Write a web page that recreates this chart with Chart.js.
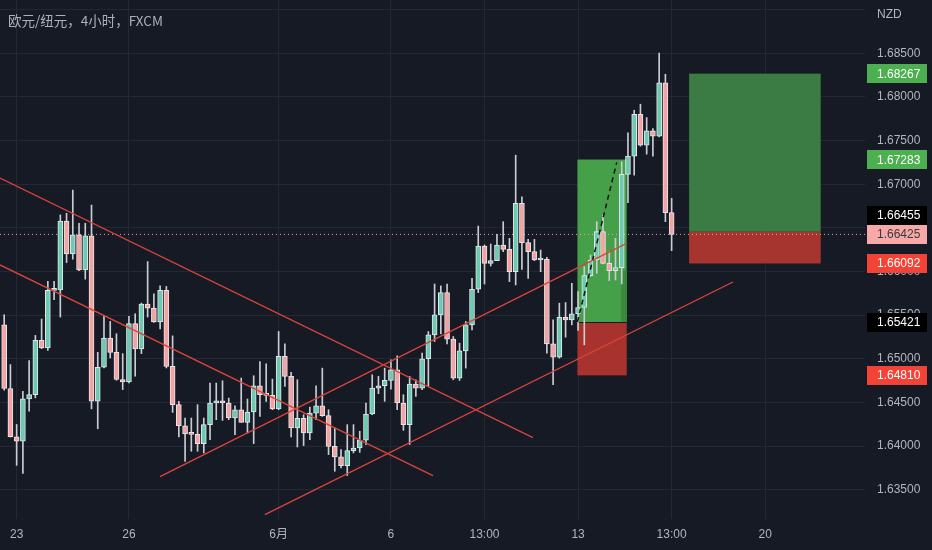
<!DOCTYPE html>
<html>
<head>
<meta charset="utf-8">
<script src="https://cdn.jsdelivr.net/npm/chart.js@4.4.1/dist/chart.umd.min.js"></script>
<style>
html, body { margin: 0; padding: 0; background: #161a25; }
#wrap { position: relative; width: 932px; height: 550px; }
#title { position: absolute; left: 8px; top: 10px; font: 13.5px "Noto Sans CJK SC", sans-serif; color: #aab0bc; }
</style>
</head>
<body>
<div id="wrap">
  <canvas id="chart"></canvas>
  <div id="title">欧元/纽元，4小时，FXCM</div>
</div>
<script>
// 4h candles (index 0 = first bar on the left)
var opens = [1.65390,1.64659,1.64106,1.64057,1.64541,1.64590,1.65211,1.65124,1.65783,1.65790,
  1.66579,1.66202,1.66419,1.66019,1.66408,1.64514,1.64903,1.65238,1.65074,1.64762,
  1.64735,1.65402,1.65112,1.65627,1.65581,1.65421,1.65783,1.64912,1.64474,1.64233,
  1.64138,1.64134,1.64028,1.64245,1.64493,1.64519,1.64493,1.64321,1.64416,1.64272,
  1.64390,1.64691,1.64588,1.64580,1.64424,1.65027,1.64798,1.64207,1.64317,1.64150,
  1.64378,1.64462,1.64348,1.63997,1.63875,1.63776,1.63948,1.63978,1.64066,1.64367,
  1.64664,1.64691,1.64752,1.64874,1.64493,1.64245,1.64710,1.64664,1.65000,1.65274,
  1.65503,1.65758,1.65225,1.64778,1.65091,1.65388,1.65797,1.66292,1.66094,1.66124,
  1.66304,1.66254,1.65998,1.66780,1.66330,1.66227,1.66132,1.66140,1.65171,1.65019,
  1.65476,1.65446,1.65514,1.65587,1.65953,1.66132,1.66456,1.66094,1.66010,1.66044,
  1.67112,1.67322,1.67802,1.67448,1.67612,1.67551,1.68161,1.66674];
var highs = [1.65505,1.64933,1.64247,1.64628,1.64979,1.65268,1.65455,1.65886,1.65886,1.66648,
  1.66667,1.66933,1.66552,1.66552,1.66762,1.65074,1.65493,1.65428,1.65287,1.65059,
  1.65486,1.65516,1.65638,1.66114,1.65745,1.65836,1.65829,1.65263,1.64512,1.64321,
  1.64321,1.64474,1.64321,1.64722,1.64722,1.64748,1.64550,1.64462,1.64779,1.64539,
  1.64805,1.64969,1.64943,1.64767,1.65313,1.65171,1.64844,1.64760,1.64359,1.64447,
  1.64691,1.64893,1.64416,1.64207,1.63959,1.64245,1.64245,1.64169,1.64493,1.64817,
  1.64798,1.64893,1.64988,1.65034,1.64588,1.64798,1.64759,1.65064,1.65312,1.65857,
  1.65835,1.65857,1.65255,1.65179,1.65427,1.65922,1.66521,1.66304,1.66315,1.66426,
  1.66571,1.66380,1.67333,1.66857,1.66368,1.66368,1.66246,1.66163,1.65446,1.65637,
  1.65644,1.65865,1.65770,1.66056,1.66189,1.66571,1.66647,1.66227,1.66380,1.67257,
  1.67589,1.67848,1.67917,1.67764,1.67639,1.68504,1.68260,1.66838];
var lows = [1.64640,1.64103,1.63779,1.63687,1.64400,1.64552,1.65116,1.65097,1.65676,1.65478,
  1.66103,1.66141,1.66010,1.65912,1.64426,1.64198,1.64895,1.65009,1.64754,1.64647,
  1.64724,1.64800,1.65059,1.65478,1.65417,1.65341,1.64895,1.64386,1.64104,1.63825,
  1.63940,1.63940,1.63921,1.64073,1.64302,1.64294,1.64302,1.64131,1.64272,1.64150,
  1.64028,1.64340,1.64512,1.64416,1.64416,1.64683,1.64104,1.63989,1.64005,1.64073,
  1.64302,1.64340,1.63902,1.63711,1.63749,1.63662,1.63921,1.63928,1.64016,1.64359,
  1.64600,1.64512,1.64653,1.64417,1.64180,1.64017,1.64569,1.64645,1.64683,1.65198,
  1.65286,1.65171,1.64759,1.64752,1.64893,1.65331,1.65758,1.65857,1.66063,1.66124,
  1.66227,1.65884,1.65846,1.66025,1.65922,1.66124,1.65998,1.65064,1.64702,1.65007,
  1.65248,1.65389,1.65324,1.65160,1.65945,1.65980,1.66086,1.65896,1.65903,1.65858,
  1.66788,1.67104,1.67436,1.67345,1.67322,1.67543,1.66571,1.66239];
var closes = [1.64659,1.64106,1.64057,1.64541,1.64590,1.65211,1.65124,1.65783,1.65790,1.66579,
  1.66202,1.66419,1.66019,1.66408,1.64514,1.64903,1.65238,1.65074,1.64762,1.64735,
  1.65402,1.65112,1.65627,1.65581,1.65421,1.65783,1.64912,1.64474,1.64233,1.64138,
  1.64134,1.64028,1.64245,1.64493,1.64519,1.64493,1.64321,1.64416,1.64272,1.64390,
  1.64691,1.64588,1.64580,1.64424,1.65027,1.64798,1.64207,1.64317,1.64150,1.64378,
  1.64462,1.64348,1.63997,1.63875,1.63776,1.63948,1.63978,1.64066,1.64367,1.64664,
  1.64691,1.64752,1.64874,1.64493,1.64245,1.64710,1.64664,1.65000,1.65274,1.65503,
  1.65758,1.65225,1.64778,1.65091,1.65388,1.65797,1.66292,1.66094,1.66124,1.66304,
  1.66254,1.65998,1.66780,1.66330,1.66227,1.66132,1.66140,1.65171,1.65019,1.65476,
  1.65446,1.65514,1.65587,1.65953,1.66132,1.66456,1.66094,1.66010,1.66044,1.67112,
  1.67322,1.67802,1.67448,1.67612,1.67551,1.68161,1.66674,1.66425];

// time axis labels, placed at bar index
var tickIdx = [2, 20, 44, 62, 77, 92, 107, 122];
var tickLabels = ['23', '26', '6月', '6', '13:00', '13', '13:00', '20'];
var priceTicks = [1.635, 1.640, 1.645, 1.650, 1.655, 1.660, 1.665, 1.670, 1.675, 1.680, 1.685, 1.690];

// drawn trend lines: [startIdx, startPrice, endIdx, endPrice]
var trendLines = [
  [-0.67, 1.67070, 84.77, 1.64096],
  [-0.67, 1.66075, 68.74, 1.63661],
  [24.98, 1.63650, 99.84, 1.66326],
  [41.8, 1.63215, 116.83, 1.65880]
];
var tradePath = [[91.9, 1.65421], [98.2, 1.67250]];

// long position tools: from/to bar index, entry, target, stop
var posFrom = [91.9, 109.8];
var posTo = [99.8, 130.9];
var posEntry = [1.65421, 1.66455];
var posTarget = [1.67283, 1.68267];
var posStop = [1.64810, 1.66092];

var lastPrice = 1.66425;

var UP = '#6ccab0', DOWN = '#f4a3a3';

var idx = closes.map(function (c, i) { return i; });
var bodyColors = idx.map(function (i) { return closes[i] >= opens[i] ? UP : DOWN; });

var lineSets = trendLines.map(function (t) {
  return {
    type: 'line', data: [{x: t[0], y: t[1]}, {x: t[2], y: t[3]}],
    borderColor: '#d9443b', borderWidth: 1.3, pointRadius: 0, fill: false, order: 0
  };
});

var posPlugin = {
  id: 'positions',
  beforeDatasetsDraw: function (chart) {
    var c = chart.ctx, xs = chart.scales.x, ys = chart.scales.y;
    var greens = ['#45a049', '#3a7c43'], reds = ['#a8332e', '#a6352f'];
    c.save();
    for (var k = 0; k < posFrom.length; k++) {
      var x0 = xs.getPixelForValue(posFrom[k]), x1 = xs.getPixelForValue(posTo[k]);
      var yT = ys.getPixelForValue(posTarget[k]), yE = ys.getPixelForValue(posEntry[k]), yS = ys.getPixelForValue(posStop[k]);
      c.fillStyle = greens[k];
      c.fillRect(x0, yT, x1 - x0, yE - yT);
      c.fillStyle = reds[k];
      c.fillRect(x0, yE, x1 - x0, yS - yE);
    }
    // closed trade shading in the first tool
    var sx = xs.getPixelForValue(98.9), ex = xs.getPixelForValue(posTo[0]);
    var sy = ys.getPixelForValue(1.66010), ey = ys.getPixelForValue(posEntry[0]);
    c.fillStyle = '#3a8a3e';
    c.fillRect(sx, sy, ex - sx, ey - sy);
    c.strokeStyle = '#1a1a1a';
    c.lineWidth = 1;
    c.beginPath();
    c.moveTo(xs.getPixelForValue(posFrom[0]), Math.round(ey) + 0.5);
    c.lineTo(ex, Math.round(ey) + 0.5);
    c.stroke();
    c.restore();
  }
};

var badgePlugin = {
  id: 'badges',
  afterDraw: function (chart) {
    var c = chart.ctx, ys = chart.scales.y;
    var items = [
      {v: lastPrice, bg: '#f7a8a8', fg: '#3a3a3a'},
      {v: posTarget[1], bg: '#4caf50', fg: '#ffffff'},
      {v: posTarget[0], bg: '#4caf50', fg: '#ffffff'},
      {v: posEntry[1], bg: '#000000', fg: '#ffffff'},
      {v: posStop[1], bg: '#f44336', fg: '#ffffff'},
      {v: posEntry[0], bg: '#000000', fg: '#ffffff'},
      {v: posStop[0], bg: '#f44336', fg: '#ffffff'}
    ];
    var h = 19, placed = [];
    c.save();
    c.font = '12px "Liberation Sans", Arial, sans-serif';
    c.textBaseline = 'middle';
    c.textAlign = 'left';
    c.fillStyle = '#b2b5be';
    c.fillText('NZD', 877, 15);
    items.forEach(function (b) {
      var y = ys.getPixelForValue(b.v);
      placed.forEach(function (p) {
        if (Math.abs(y - p) < h) y = p - h;
      });
      placed.push(y);
      c.fillStyle = b.bg;
      c.fillRect(867, Math.round(y - h / 2), 60, h);
      c.fillStyle = b.fg;
      c.fillText(b.v.toFixed(5), 877, Math.round(y) + 1);
    });
    c.restore();
  }
};

function noPad(s) {
  s.paddingTop = 0; s.paddingBottom = 0; s.paddingLeft = 0; s.paddingRight = 0;
}

new Chart(document.getElementById('chart'), {
  type: 'bar',
  data: {
    datasets: [
      {
        label: 'wick', data: idx.map(function (i) { return {x: i, y: [lows[i], highs[i]]}; }),
        backgroundColor: '#c9ccd3', barThickness: 1, grouped: false, order: 3
      },
      {
        label: 'body', data: idx.map(function (i) { return {x: i, y: [opens[i], closes[i]]}; }),
        backgroundColor: bodyColors, borderColor: '#e4e6ec', borderWidth: 1, borderSkipped: false,
        barThickness: 5, minBarLength: 2, grouped: false, order: 2
      },
      {
        type: 'line', label: 'last', data: [{x: -0.67, y: lastPrice}, {x: 138, y: lastPrice}],
        borderColor: '#f29a9a', borderWidth: 1, borderDash: [1, 3], pointRadius: 0, fill: false, order: 4
      },
      {
        type: 'line', label: 'path', data: tradePath.map(function (p) { return {x: p[0], y: p[1]}; }),
        borderColor: '#111111', borderWidth: 1.5, borderDash: [5, 4], pointRadius: 0, fill: false, order: 1
      }
    ].concat(lineSets)
  },
  options: {
    responsive: true,
    maintainAspectRatio: false,
    animation: false,
    layout: { padding: 0 },
    plugins: { legend: { display: false }, tooltip: { enabled: false } },
    scales: {
      x: {
        type: 'linear', min: -0.67, max: 138, offset: false,
        grid: { color: '#232834', offset: false, drawTicks: false },
        border: { display: false },
        afterBuildTicks: function (s) { s.ticks = tickIdx.map(function (v) { return {value: v}; }); },
        afterFit: function (s) { s.height = 31; noPad(s); },
        ticks: {
          autoSkip: false, maxRotation: 0, padding: 8, color: '#b2b5be',
          font: { size: 12, family: '"Liberation Sans", "Noto Sans CJK SC", sans-serif' },
          callback: function (v, i) { return tickLabels[i]; }
        }
      },
      y: {
        type: 'linear', position: 'right', min: 1.63164, max: 1.69111, beginAtZero: false,
        grid: { color: '#232834', drawTicks: false },
        border: { display: false },
        afterBuildTicks: function (s) { s.ticks = priceTicks.map(function (v) { return {value: v}; }); },
        afterFit: function (s) { s.width = 67; noPad(s); },
        ticks: {
          padding: 12, color: '#b2b5be',
          font: { size: 12, family: '"Liberation Sans", Arial, sans-serif' },
          callback: function (v) { return v > 1.6875 ? '' : v.toFixed(5); }
        }
      }
    }
  },
  plugins: [posPlugin, badgePlugin]
});
</script>
</body>
</html>
